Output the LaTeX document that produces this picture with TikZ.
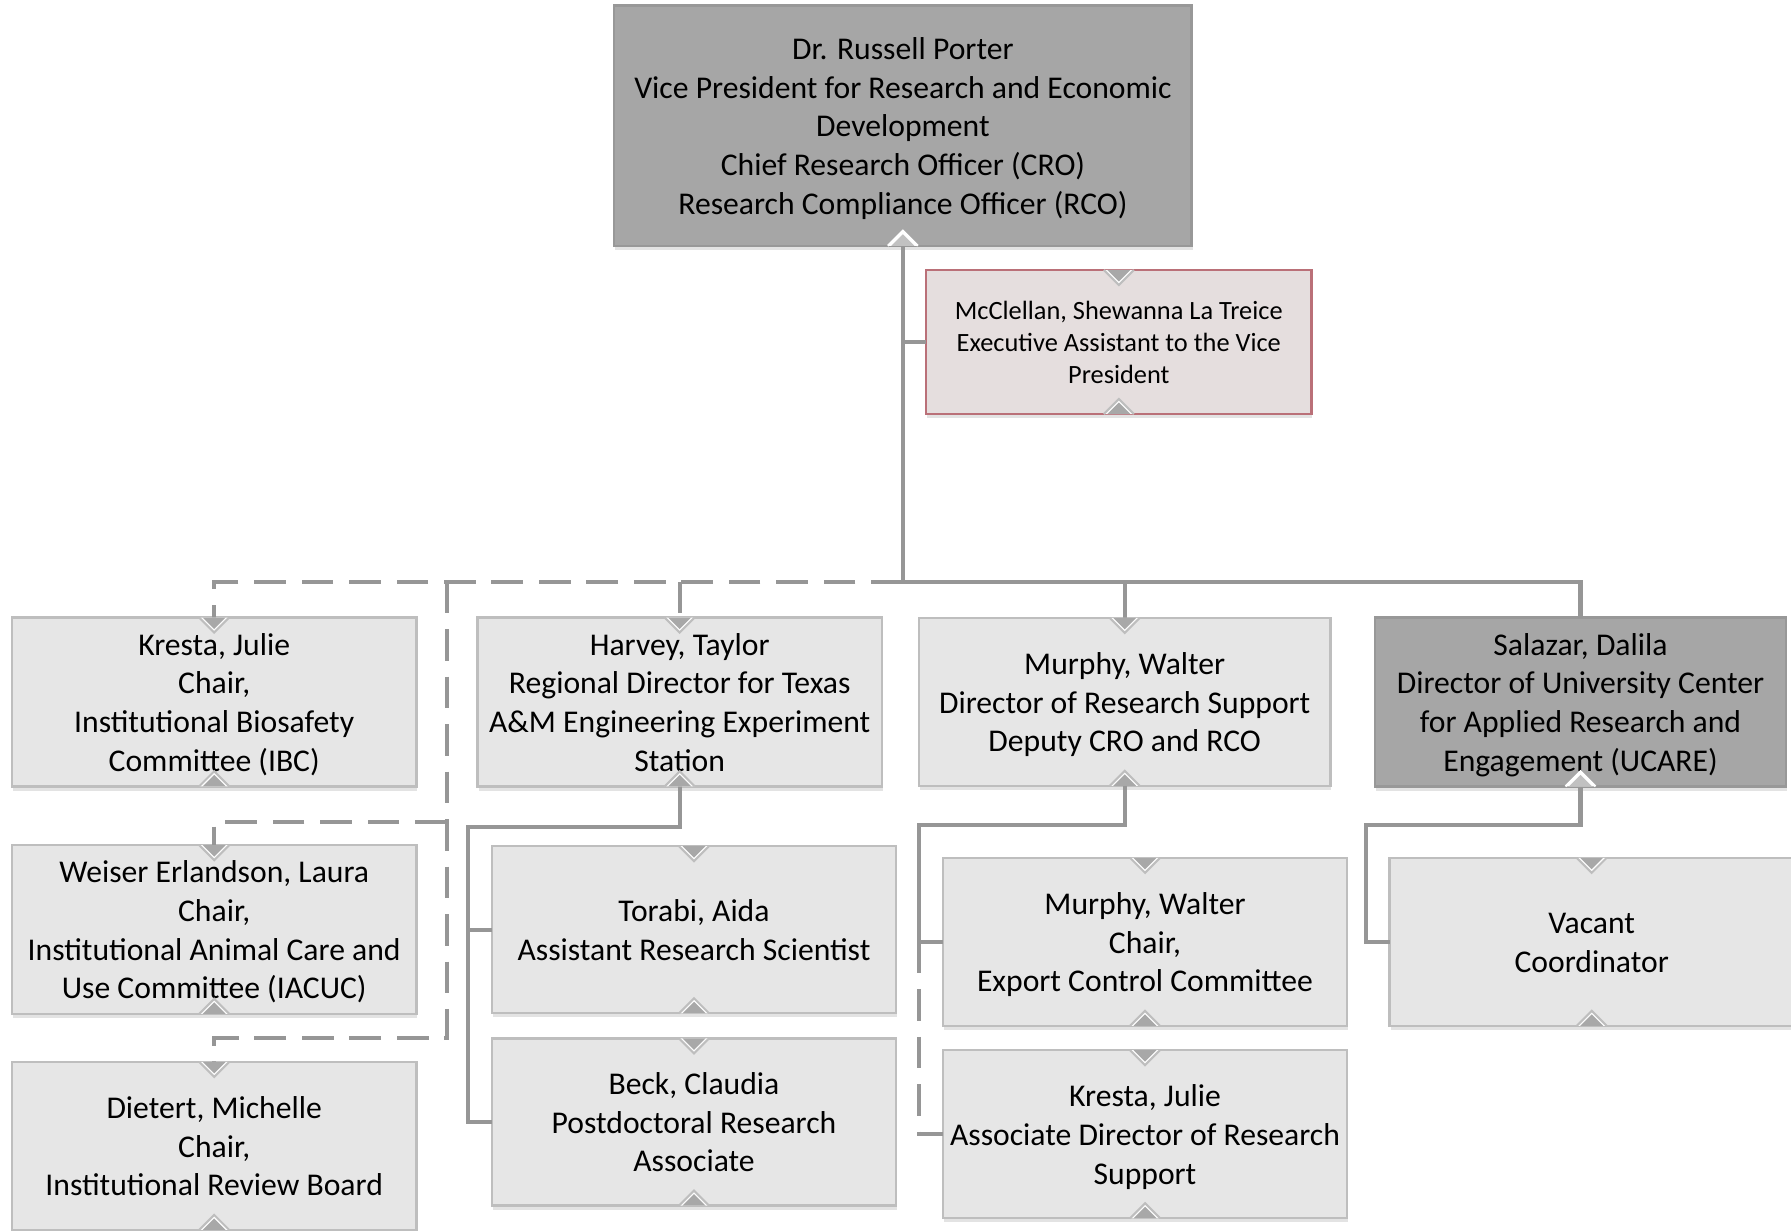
\documentclass[tikz,border=0pt]{standalone}
\usepackage{fontspec}
\setmainfont{Carlito}
\usetikzlibrary{shadows}
\definecolor{boxfill}{RGB}{230,230,230}
\definecolor{boxline}{RGB}{190,190,190}
\definecolor{chieffill}{RGB}{166,166,166}
\definecolor{chiefline}{RGB}{152,152,152}
\definecolor{asstfill}{RGB}{229,222,222}
\definecolor{asstline}{RGB}{186,112,120}
\definecolor{linkgray}{RGB}{150,150,150}
\definecolor{tabgray}{RGB}{168,168,168}
% line struts, so that the text sits like in the original chart
\newcommand{\cardtext}[1]{\rule{0pt}{8.7pt}#1\rule[-2.3pt]{0pt}{0pt}}
% small connection tabs on the box edges
\newcommand{\tabdown}[1]{%
  \filldraw[fill=white,draw=boxline,line width=0.6pt] ([xshift=-0.15cm]#1.north) -- ([yshift=-0.15cm]#1.north) -- ([xshift=0.15cm]#1.north);
  \fill[tabgray] ([xshift=-0.115cm]#1.north) -- ([yshift=-0.115cm]#1.north) -- ([xshift=0.115cm]#1.north) -- cycle;}
\newcommand{\tabup}[3]{%
  \filldraw[fill=white,draw=#1,line width=0.6pt] ([xshift=-0.15cm]#3.south) -- ([yshift=0.15cm]#3.south) -- ([xshift=0.15cm]#3.south);
  \fill[#2] ([xshift=-0.115cm]#3.south) -- ([yshift=0.115cm]#3.south) -- ([xshift=0.115cm]#3.south) -- cycle;}
\begin{document}
\begin{tikzpicture}[x=0.01cm,y=-0.01cm,
  frame/.style={draw=boxline,fill=boxfill,line width=0.7pt,align=center,inner sep=2pt,outer sep=0pt,
    minimum width=4.04cm,minimum height=1.68cm,
    drop shadow={shadow xshift=0.3pt,shadow yshift=-1.2pt,opacity=0.22}},
  box/.style={frame,font=\fontsize{9}{11}\selectfont},
  chief/.style={box,fill=chieffill,draw=chiefline},
  asst/.style={frame,fill=asstfill,draw=asstline,font=\fontsize{7.5}{9.1}\selectfont},
  link/.style={draw=linkgray,line width=1.2pt},
  dashlink/.style={link,dash pattern=on 9pt off 4.5pt}]
  \useasboundingbox (0,0) rectangle (1791,1230);
  \clip (0,0) rectangle (1791,1230);

  \node[chief,minimum width=5.77cm,minimum height=2.40cm] (vp) at (902.9,125.7)
    {\cardtext{Dr. Russell Porter\\Vice President for Research and Economic\\Development\\Chief Research Officer (CRO)\\Research Compliance Officer (RCO)}};
  \node[asst,minimum width=3.85cm,minimum height=1.44cm] (asst) at (1118.8,342)
    {McClellan, Shewanna La Treice\\Executive Assistant to the Vice\\President};

  \node[box] (ibc) at (214.2,701.9) {\cardtext{Kresta, Julie\\Chair,\\Institutional Biosafety\\Committee (IBC)}};
  \node[box] (harvey) at (679.7,701.9) {\cardtext{Harvey, Taylor\\Regional Director for Texas\\A\&M Engineering Experiment\\Station}};
  \node[box,minimum width=4.11cm] (murphy) at (1124.7,701.9) {\cardtext{Murphy, Walter\\Director of Research Support\\Deputy CRO and RCO}};
  \node[chief,minimum width=4.11cm] (salazar) at (1580.5,701.9) {\cardtext{Salazar, Dalila\\Director of University Center\\for Applied Research and\\Engagement (UCARE)}};

  \node[box] (weiser) at (214.2,929.5) {\cardtext{Weiser Erlandson, Laura\\Chair,\\Institutional Animal Care and\\Use Committee (IACUC)}};
  \node[box] (dietert) at (214.2,1145.9) {\cardtext{Dietert, Michelle\\Chair,\\Institutional Review Board}};
  \node[box,minimum height=1.67cm] (torabi) at (694,929.7) {\cardtext{Torabi, Aida\\Assistant Research Scientist}};
  \node[box,minimum height=1.67cm] (beck) at (694,1122) {\cardtext{Beck, Claudia\\Postdoctoral Research\\Associate}};
  \node[box] (ecc) at (1145,941.8) {\cardtext{Murphy, Walter\\Chair,\\Export Control Committee}};
  \node[box] (kresta) at (1145,1134.2) {\cardtext{Kresta, Julie\\Associate Director of Research\\Support}};
  \node[box] (vacant) at (1591.7,941.8) {\cardtext{Vacant\\Coordinator}};

  % reporting lines
  \coordinate (bus) at (902.9,581.7);
  \coordinate (split) at (446.7,581.7);
  \coordinate (wjoint) at (446.7,821.7);
  \coordinate (djoint) at (446.7,1038.3);
  \coordinate (hbend) at (468.3,826.7);
  \coordinate (mbend) at (919.3,825);
  \coordinate (sbend) at (1366,825);

  \draw[link] (vp.south) -- (bus) -| (salazar.north);
  \draw[link] (vp.south |- asst.west) -- (asst.west);
  \draw[link] (murphy.north |- bus) -- (murphy.north);
  \draw[dashlink] (bus) -| (ibc.north);
  \draw[dashlink] (harvey.north |- bus) -- (harvey.north);
  \draw[dashlink] (split) -- (djoint) -| (dietert.north);
  \draw[dashlink] (wjoint) -| (weiser.north);

  \draw[link] (harvey.south) |- (hbend) |- (beck.west);
  \draw[link] (hbend) |- (torabi.west);
  \draw[link] (murphy.south) |- (mbend) |- (ecc.west);
  \draw[dashlink] (mbend |- ecc.west) |- (kresta.west);
  \draw[link] (salazar.south) |- (sbend) |- (vacant.west);

  % tabs
  \foreach \n in {asst,ibc,harvey,murphy,weiser,dietert,torabi,beck,ecc,kresta,vacant} {
    \tabdown{\n}
    \tabup{boxline}{tabgray}{\n}
  }
  \tabup{white}{chieffill!70!white}{vp}
  \tabup{white}{chieffill!70!white}{salazar}
\end{tikzpicture}
\end{document}
